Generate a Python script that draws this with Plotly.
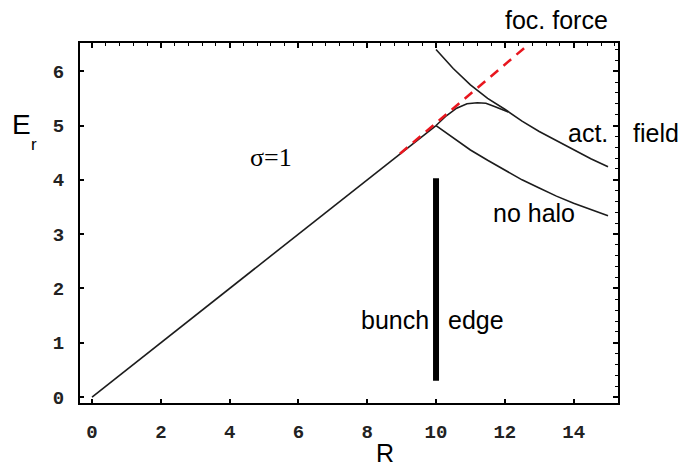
import plotly.graph_objects as go

# Radial field E_r versus radius R
r_inner = [0, 1, 2, 3, 4, 5, 6, 7, 8, 9, 10]
e_inner = [0, 0.5, 1.0, 1.5, 2.0, 2.5, 3.0, 3.5, 4.0, 4.5, 5.0]

r_nohalo = [10, 10.5, 11, 11.5, 12, 12.5, 13, 13.5, 14, 14.5, 15]
e_nohalo = [5.0, 4.77, 4.55, 4.36, 4.18, 4.0, 3.85, 3.70, 3.57, 3.45, 3.34]

r_outer = [10, 10.5, 11, 11.5, 12, 12.5, 13, 13.5, 14, 14.5, 15]
e_outer = [6.40, 6.05, 5.75, 5.50, 5.30, 5.08, 4.89, 4.72, 4.55, 4.39, 4.24]

r_act = [10, 10.3, 10.6, 10.9, 11.2, 11.45, 11.7, 11.95, 12.1]
e_act = [5.0, 5.18, 5.32, 5.40, 5.42, 5.41, 5.35, 5.29, 5.25]

r_focus = [8.95, 12.7]
e_focus = [4.48, 6.50]

r_edge = [10, 10]
e_edge = [0.3, 4.03]

curve = dict(color="#1c1c1c", width=1.6)

fig = go.Figure()
fig.add_trace(go.Scatter(x=r_inner, y=e_inner, mode="lines", line=curve))
fig.add_trace(go.Scatter(x=r_nohalo, y=e_nohalo, mode="lines", line=curve))
fig.add_trace(go.Scatter(x=r_outer, y=e_outer, mode="lines", line=curve))
fig.add_trace(go.Scatter(x=r_act, y=e_act, mode="lines", line=curve))
fig.add_trace(go.Scatter(x=r_focus, y=e_focus, mode="lines",
                         line=dict(color="#e8161e", width=2.5, dash="10px,7px")))
fig.add_trace(go.Scatter(x=r_edge, y=e_edge, mode="lines",
                         line=dict(color="black", width=6)))
# empty trace so the mirrored top/right frame axes are drawn
fig.add_trace(go.Scatter(x=[None], y=[None], xaxis="x2", yaxis="y2",
                         mode="lines", hoverinfo="skip"))

xr = [-0.35, 15.29]
yr = [-0.11, 6.52]
tickfont = dict(family="Liberation Mono", size=19, color="#222222", weight="bold")

fig.update_layout(
    width=684, height=470,
    margin=dict(l=80, r=66, t=43, b=67),
    paper_bgcolor="white", plot_bgcolor="white",
    showlegend=False,
    xaxis=dict(range=xr, dtick=2, tick0=0, showgrid=False, zeroline=False,
               showline=True, linecolor="black", linewidth=2,
               ticks="inside", ticklen=4, tickwidth=1.5, tickcolor="black",
               tickfont=tickfont, ticklabelstandoff=10),
    yaxis=dict(range=yr, dtick=1, tick0=0, showgrid=False, zeroline=False,
               showline=True, linecolor="black", linewidth=2,
               ticks="inside", ticklen=4, tickwidth=1.5, tickcolor="black",
               tickfont=tickfont, ticklabelstandoff=10),
    xaxis2=dict(range=xr, overlaying="x", side="top", matches="x",
                showgrid=False, zeroline=False, showticklabels=False,
                showline=True, linecolor="black", linewidth=2,
                ticks="inside", dtick=2, tick0=0, ticklen=5, tickwidth=1.5,
                tickcolor="black",
                minor=dict(ticks="inside", dtick=0.4, tick0=0, ticklen=3,
                           tickwidth=1.2, tickcolor="black")),
    yaxis2=dict(range=yr, overlaying="y", side="right", matches="y",
                showgrid=False, zeroline=False, showticklabels=False,
                showline=True, linecolor="black", linewidth=2,
                ticks="inside", dtick=1, tick0=0, ticklen=5, tickwidth=1.5,
                tickcolor="black",
                minor=dict(ticks="inside", dtick=0.2, tick0=0, ticklen=3,
                           tickwidth=1.2, tickcolor="black")),
)

sans = "Liberation Sans"
# labels inside the frame, placed in data coordinates
inside_labels = [
    ("act.", 14.42, 4.86, sans, 25),
    ("no halo", 12.85, 3.39, sans, 25),
    ("bunch", 8.81, 1.42, sans, 25),
    ("edge", 11.16, 1.42, sans, 25),
    ("σ=1", 5.2, 4.42, "Liberation Serif", 26),
]
for text, x, y, fam, size in inside_labels:
    fig.add_annotation(x=x, y=y, xref="x", yref="y", text=text, showarrow=False,
                       xanchor="center", yanchor="middle",
                       font=dict(family=fam, size=size, color="black"))

# labels outside the frame, placed in paper coordinates
outside_labels = [
    ("foc. force", 0.885, 1.064, sans, 25),
    ("field", 1.0706, 0.75, sans, 25),
    ("R", 0.567, -0.14, sans, 25),
    ("E", -0.1087, 0.774, sans, 28),
    ("r", -0.0855, 0.717, sans, 17),
]
for text, x, y, fam, size in outside_labels:
    fig.add_annotation(x=x, y=y, xref="paper", yref="paper", text=text,
                       showarrow=False, xanchor="center", yanchor="middle",
                       font=dict(family=fam, size=size, color="black"))

fig.write_html("out.html")
